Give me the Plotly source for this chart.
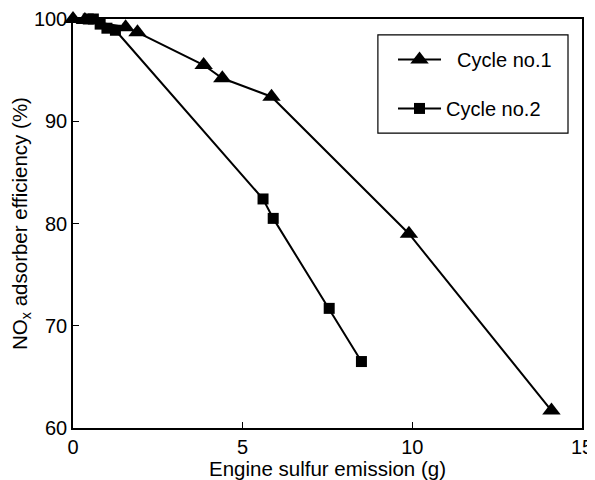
import plotly.graph_objects as go

cycle1_x = [0.0, 0.35, 1.55, 1.9, 3.85, 4.4, 5.85, 9.9, 14.1]
cycle1_y = [100.0, 99.9, 99.2, 98.7, 95.5, 94.2, 92.4, 79.0, 61.7]

cycle2_x = [0.45, 0.6, 0.8, 1.0, 1.25, 5.6, 5.9, 7.55, 8.5]
cycle2_y = [100.0, 100.0, 99.5, 99.1, 98.9, 82.4, 80.5, 71.7, 66.5]

fig = go.Figure()
fig.add_trace(go.Scatter(
    x=cycle1_x, y=cycle1_y, name="  Cycle no.1 ", mode="lines+markers",
    line=dict(color="black", width=2),
    marker=dict(symbol="triangle-up", size=16, color="black"),
    cliponaxis=False, legendgroup="a"))
fig.add_trace(go.Scatter(
    x=cycle2_x, y=cycle2_y, name="Cycle no.2", mode="lines+markers",
    line=dict(color="black", width=2),
    marker=dict(symbol="square", size=11, color="black"),
    cliponaxis=False, legendgroup="b"))

axis_common = dict(
    showline=True, linecolor="black", linewidth=1.5, mirror=True,
    ticks="inside", ticklen=6, tickcolor="black", showgrid=False,
    zeroline=False, automargin=False, tickfont=dict(size=20, color="black"))

fig.update_xaxes(range=[0, 15], tickvals=[0, 5, 10, 15],
                 title=dict(text="Engine sulfur emission (g)", standoff=0,
                            font=dict(size=20.5, color="black")),
                 **axis_common)
fig.update_yaxes(range=[60, 100], tickvals=[60, 70, 80, 90, 100],
                 title=dict(text="NO<sub>x</sub> adsorber efficiency (%)\u00a0\u00a0\u00a0", standoff=4,
                            font=dict(size=20.5, color="black")),
                 **axis_common)

# legend frame
fig.add_shape(type="rect", xref="paper", yref="paper",
              x0=0.599, x1=0.9725, y0=0.721, y1=0.961,
              line=dict(color="black", width=1.2), fillcolor="rgba(0,0,0,0)")

fig.update_layout(
    width=587, height=472,
    margin=dict(l=65, r=13, t=11, b=52),
    paper_bgcolor="white", plot_bgcolor="white",
    font=dict(family="Liberation Sans, Arial, sans-serif", color="black"),
    legend=dict(x=0.6287, y=0.9488, xanchor="left", yanchor="top",
                borderwidth=0, bgcolor="rgba(0,0,0,0)",
                font=dict(size=20, color="black"), itemwidth=43,
                tracegroupgap=20, traceorder="grouped"),
)

fig.write_html("out.html")
